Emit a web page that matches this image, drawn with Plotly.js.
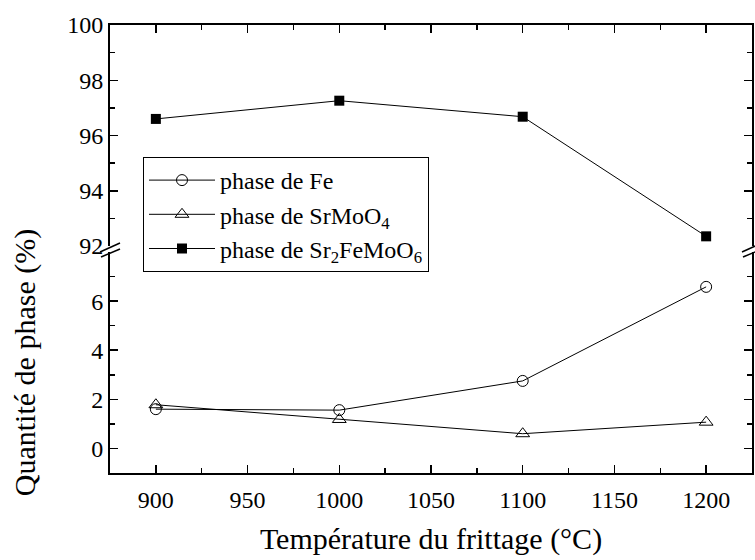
<!DOCTYPE html>
<html><head><meta charset="utf-8">
<script src="https://cdn.plot.ly/plotly-3.0.1.min.js"></script>
<style>body{margin:0;background:#fff}#c{width:755px;height:560px}</style>
</head><body><div id="c"></div>
<script>
const temps = [900, 1000, 1100, 1200];
const fe = [1.6, 1.56, 2.75, 6.58];
const srmoo4 = [1.78, 1.18, 0.6, 1.07];
const sfmo = [96.6, 97.26, 96.68, 92.35];
const names = ['phase de Fe', 'phase de SrMoO<sub>4</sub>', 'phase de Sr<sub>2</sub>FeMoO<sub>6</sub>'];
const xTicks = [900, 950, 1000, 1050, 1100, 1150, 1200];
const yLowTicks = [0, 2, 4, 6];
const yHighTicks = [92, 94, 96, 98, 100];

const FONT = 'Liberation Serif';
const L = 110, R = 752, T = 25, B = 473, W = 755, H = 560;
const px = x => (x - L) / (R - L);
const py = y => (B - y) / (B - T);

const traces = [
  {x: temps, y: fe, name: names[0], mode: 'lines+markers', xaxis: 'x', yaxis: 'y', legendgroup: 'a',
   line: {color: '#000', width: 1}, marker: {symbol: 'circle-open', size: 11, color: '#000', line: {width: 1}}},
  {x: temps, y: srmoo4, name: names[1], mode: 'lines+markers', xaxis: 'x', yaxis: 'y', legendgroup: 'b',
   line: {color: '#000', width: 1}, marker: {symbol: 'triangle-up-open', size: 12, color: '#000', line: {width: 1}}},
  {x: temps, y: sfmo, name: names[2], mode: 'lines+markers', xaxis: 'x2', yaxis: 'y2', legendgroup: 'c',
   line: {color: '#000', width: 1}, marker: {symbol: 'square', size: 10, color: '#000'}}
];

function ax(extra) {
  return Object.assign({showline: true, linewidth: 2, linecolor: '#000', ticks: 'inside', ticklen: 8, tickwidth: 1.5,
    tickcolor: '#000', showgrid: false, zeroline: false,
    tickfont: {family: FONT, size: 24, color: '#000'}}, extra);
}

const brk = [];
function slash(x0, y0, x1, y1) {
  brk.push({type: 'line', xref: 'paper', yref: 'paper', x0: px(x0), y0: py(y0), x1: px(x1), y1: py(y1),
    line: {color: '#000', width: 1.5}});
}
slash(100, 252, 120, 243); slash(101, 257, 120, 249);
slash(742, 252, 762, 243); slash(743, 257, 762, 249);

const layout = {
  width: W, height: H, margin: {l: L, r: W - R, t: T, b: H - B},
  paper_bgcolor: '#fff', plot_bgcolor: '#fff', showlegend: true,
  font: {family: FONT, size: 24, color: '#000'},
  xaxis: ax({range: [875, 1225], anchor: 'y', tickmode: 'array', tickvals: xTicks, ticktext: xTicks.map(String),
    ticklabelstandoff: 4,
    minor: {dtick: 25, tick0: 875, ticks: 'inside', ticklen: 5, tickcolor: '#000'},
    title: {text: 'Température du frittage (°C)', font: {family: FONT, size: 30, color: '#000'}, standoff: 16}}),
  xaxis2: ax({range: [875, 1225], anchor: 'y2', side: 'top', matches: 'x', showticklabels: false,
    tickmode: 'array', tickvals: xTicks,
    minor: {dtick: 25, tick0: 875, ticks: 'inside', ticklen: 5, tickcolor: '#000'}}),
  yaxis: ax({domain: [0, 221 / 448], range: [-1, 8], anchor: 'x', mirror: 'ticks',
    tickmode: 'array', tickvals: yLowTicks, ticktext: yLowTicks.map(String),
    minor: {tickvals: [-1, 1, 3, 5, 7], ticks: 'inside', ticklen: 5, tickcolor: '#000'},
    title: {text: 'Quantité de phase (%)', font: {family: FONT, size: 30, color: '#000'}, standoff: 47}}),
  yaxis2: ax({domain: [(473 - 246) / 448, 1], range: [92, 100], anchor: 'x2', mirror: 'ticks',
    tickmode: 'array', tickvals: yHighTicks, ticktext: yHighTicks.map(String),
    minor: {dtick: 1, tick0: 92, ticks: 'inside', ticklen: 5, tickcolor: '#000'}}),
  legend: {x: px(143), y: py(157), xanchor: 'left', yanchor: 'top', bgcolor: '#fff', bordercolor: '#000', borderwidth: 1,
    font: {family: FONT, size: 24, color: '#000'}, traceorder: 'grouped', tracegroupgap: 0, itemwidth: 66},
  shapes: brk
};

Plotly.newPlot('c', traces, layout, {displayModeBar: false, staticPlot: true});
</script>
</body></html>
